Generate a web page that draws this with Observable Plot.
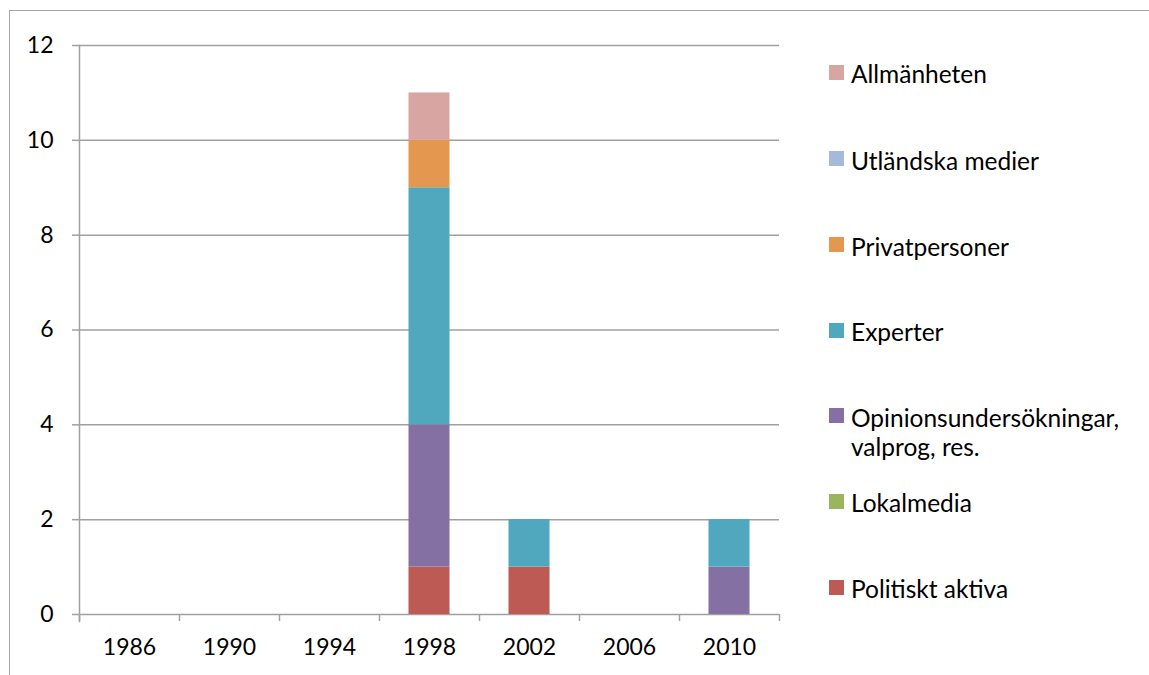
<!DOCTYPE html>
<html>
<head>
<meta charset="utf-8">
<script src="https://cdn.jsdelivr.net/npm/d3@7"></script>
<script src="https://cdn.jsdelivr.net/npm/@observablehq/plot@0.6"></script>
<style>
  html, body { margin: 0; padding: 0; background: #fff; }
  #wrap { position: relative; width: 1149px; height: 675px; overflow: hidden; font-family: Lato, "Open Sans", sans-serif; }
  #frame { position: absolute; left: 9px; top: 10px; width: 1300px; height: 800px; border: 1.5px solid #a6a6a6; box-sizing: border-box; }
  #chart { position: absolute; left: 0; top: 0; }
  .sw { position: absolute; left: 829px; width: 15px; height: 15px; }
  .tx { position: absolute; left: 851px; font-size: 24.5px; line-height: 29px; color: #000; white-space: nowrap; }
</style>
</head>
<body>
<div id="wrap">
  <div id="frame"></div>
  <div id="chart"></div>
  <div id="legend"></div>
</div>
<script>
const years = ["1986", "1990", "1994", "1998", "2002", "2006", "2010"];
// stacking order, bottom to top
const categories = ["Politiskt aktiva", "Lokalmedia", "Opinionsundersökningar, valprog, res.", "Experter", "Privatpersoner", "Utländska medier", "Allmänheten"];
const colors = ["#BC5A53", "#9BB55E", "#8570A3", "#4FA8BE", "#E3974F", "#A5B9DB", "#D9A5A3"];
const politisktAktiva = [0, 0, 0, 1, 1, 0, 0];
const lokalmedia      = [0, 0, 0, 0, 0, 0, 0];
const opinion         = [0, 0, 0, 3, 0, 0, 1];
const experter        = [0, 0, 0, 5, 1, 0, 1];
const privatpersoner  = [0, 0, 0, 1, 0, 0, 0];
const utlandska       = [0, 0, 0, 0, 0, 0, 0];
const allmanheten     = [0, 0, 0, 1, 0, 0, 0];
const yTicks = [0, 2, 4, 6, 8, 10, 12];

const series = [politisktAktiva, lokalmedia, opinion, experter, privatpersoner, utlandska, allmanheten];
const data = [];
categories.forEach((c, i) => years.forEach((y, j) => data.push({year: y, category: c, value: series[i][j]})));

const grid = "#a0a0a0";
const chart = Plot.plot({
  width: 800,
  height: 675,
  marginLeft: 79,
  marginRight: 21,
  marginTop: 45,
  marginBottom: 61,
  style: {fontFamily: "Lato, 'Open Sans', sans-serif", fontSize: "23px", color: "#000", background: "transparent"},
  x: {domain: years, padding: 0, label: null},
  y: {domain: [0, 12], label: null},
  color: {domain: categories, range: colors},
  marks: [
    Plot.ruleY(yTicks, {stroke: grid, strokeWidth: 1.5}),
    Plot.barY(data, {x: "year", y: "value", fill: "category", order: categories, insetLeft: 29.5, insetRight: 29.5}),
    Plot.frame({anchor: "left", stroke: grid, strokeWidth: 1.5, insetBottom: -7}),
    Plot.axisY({ticks: yTicks, tickSize: 7, tickPadding: 19, stroke: grid, strokeWidth: 1.5, fill: "#000"}),
    Plot.axisX({tickSize: 0, tickPadding: 24, fill: "#000"}),
    Plot.axisX(years, {tickSize: 7, dx: -50, tickFormat: () => "", stroke: grid, strokeWidth: 1.5}),
    Plot.axisX([years[years.length - 1]], {tickSize: 7, dx: 50, tickFormat: () => "", stroke: grid, strokeWidth: 1.5})
  ]
});
document.getElementById("chart").appendChild(chart);

// legend (top to bottom)
const legendItems = [
  {label: "Allmänheten", sw: 65, tx: 59},
  {label: "Utländska medier", sw: 151, tx: 146},
  {label: "Privatpersoner", sw: 237, tx: 232},
  {label: "Experter", sw: 323, tx: 317},
  {label: "Opinionsundersökningar,<br>valprog, res.", sw: 408, tx: 403},
  {label: "Lokalmedia", sw: 494, tx: 488},
  {label: "Politiskt aktiva", sw: 580, tx: 574}
];
const leg = document.getElementById("legend");
legendItems.forEach((it, k) => {
  const ci = categories.length - 1 - k;
  const s = document.createElement("div");
  s.className = "sw";
  s.style.top = it.sw + "px";
  s.style.background = colors[ci];
  leg.appendChild(s);
  const t = document.createElement("div");
  t.className = "tx";
  t.style.top = it.tx + "px";
  t.innerHTML = it.label;
  leg.appendChild(t);
});
</script>
</body>
</html>
